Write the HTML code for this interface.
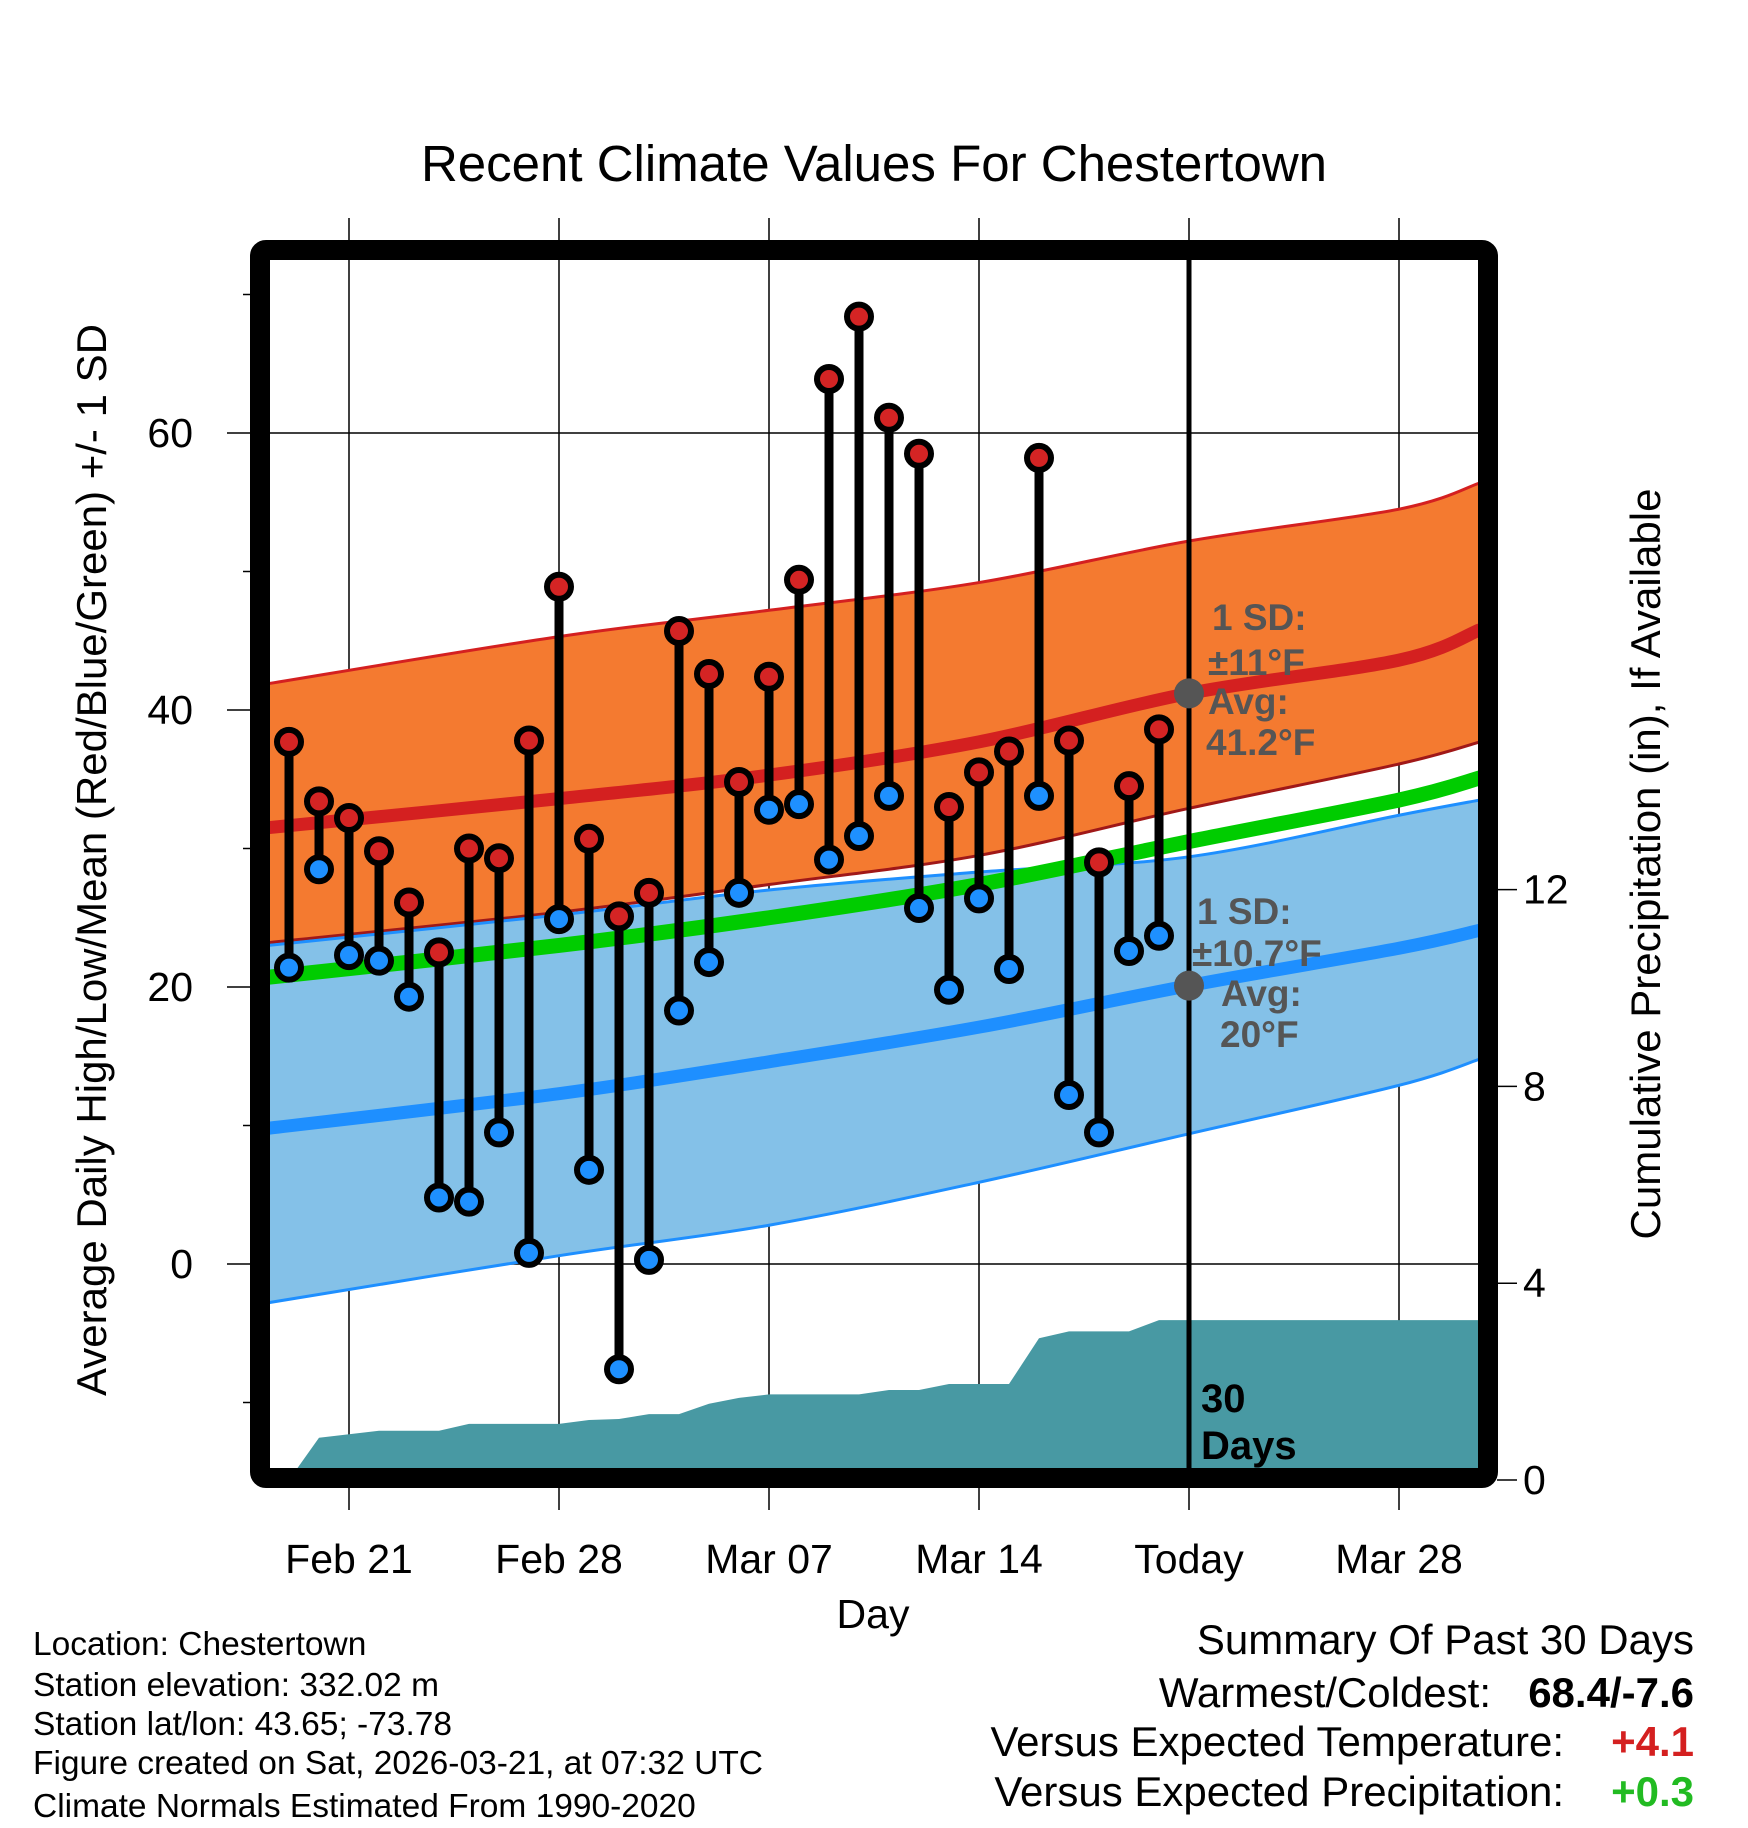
<!DOCTYPE html>
<html><head><meta charset="utf-8"><style>
html,body{margin:0;padding:0;background:#fff}
svg{display:block;font-family:"Liberation Sans",sans-serif}
</style></head><body>
<svg id="chart" width="1748" height="1828" viewBox="0 0 1748 1828" xmlns="http://www.w3.org/2000/svg">
<defs><clipPath id="plotclip"><rect x="270" y="260" width="1208" height="1208"/></clipPath></defs>
<text x="874" y="181" font-size="51" text-anchor="middle">Recent Climate Values For Chestertown</text>
<g id="grid"></g>
<g id="plot" clip-path="url(#plotclip)"></g>
<g id="over"></g>
<rect x="260" y="250" width="1228" height="1228" fill="none" stroke="#000" stroke-width="20" rx="6"/>
<g id="axes"></g>
<text transform="translate(106,860) rotate(-90)" font-size="42" text-anchor="middle">Average Daily High/Low/Mean (Red/Blue/Green) +/- 1 SD</text>
<text transform="translate(1660,864) rotate(-90)" font-size="42" text-anchor="middle">Cumulative Precipitation (in), If Available</text>
<text x="873" y="1628" font-size="41" text-anchor="middle">Day</text>
<g font-size="33.5">
<text x="33" y="1655">Location: Chestertown</text>
<text x="33" y="1696">Station elevation: 332.02 m</text>
<text x="33" y="1735">Station lat/lon: 43.65; -73.78</text>
<text x="33" y="1774">Figure created on Sat, 2026-03-21, at 07:32 UTC</text>
<text x="33" y="1817">Climate Normals Estimated From 1990-2020</text>
</g>
<g font-size="42">
<text x="1694" y="1654" text-anchor="end">Summary Of Past 30 Days</text>
<text x="1491" y="1707" text-anchor="end">Warmest/Coldest:</text>
<text x="1694" y="1707" text-anchor="end" font-weight="bold">68.4/-7.6</text>
<text x="1564" y="1756" text-anchor="end">Versus Expected Temperature:</text>
<text x="1694" y="1756" text-anchor="end" font-weight="bold" fill="#d42020">+4.1</text>
<text x="1564" y="1806" text-anchor="end">Versus Expected Precipitation:</text>
<text x="1694" y="1806" text-anchor="end" font-weight="bold" fill="#22bb22">+0.3</text>
</g>
</svg>
<script>
const highs=[37.7,33.4,32.2,29.8,26.1,22.5,30.0,29.3,37.8,48.9,30.7,25.1,26.8,45.7,42.6,34.8,42.4,49.4,63.9,68.4,61.1,58.5,33.0,35.5,37.0,58.2,37.8,29.0,34.5,38.6];
const lows=[21.4,28.5,22.3,21.9,19.3,4.8,4.5,9.5,0.8,24.9,6.8,-7.6,0.3,18.3,21.8,26.8,32.8,33.2,29.2,30.9,33.8,25.7,19.8,26.4,21.3,33.8,12.2,9.5,22.6,23.7];
const precip=[0,0.86,0.93,1.0,1.0,1.0,1.14,1.14,1.14,1.14,1.22,1.24,1.34,1.34,1.55,1.67,1.74,1.74,1.74,1.74,1.83,1.83,1.95,1.95,1.95,2.88,3.02,3.02,3.02,3.25];
const normDays=[-0.7,9,16,23,30,37,39.7];
const normHigh=[31.5,33.6,35.3,37.7,41.2,43.6,45.8];
const normHighUp=[41.9,45.3,47.2,49.2,52.2,54.5,56.4];
const normHighLo=[23.2,25.4,27.4,29.5,32.9,36.1,37.7];
const normMean=[20.7,23.0,25.0,27.4,30.5,33.5,35.1];
const normLow=[9.8,12.3,14.6,17.1,20.1,22.8,24.1];
const normLowUp=[23.0,25.2,27.0,28.3,29.4,32.4,33.5];
const normLowLo=[-2.8,0.6,2.8,5.9,9.4,12.9,14.8];
const xTickDays=[2,9,16,23,30,37];
const xTickLabels=["Feb 21","Feb 28","Mar 07","Mar 14","Today","Mar 28"];
const yTicks=[0,20,40,60];
const yMinor=[-10,10,30,50,70];
const y2Ticks=[0,4,8,12];

const X=d=>289+30*d;
const Y=t=>1264-13.85*t;
const P=p=>1480-49.2*p;
const NS="http://www.w3.org/2000/svg";
function mk(parent,tag,attrs){const e=document.createElementNS(NS,tag);for(const k in attrs)e.setAttribute(k,attrs[k]);parent.appendChild(e);return e;}
const grid=document.getElementById('grid'),plot=document.getElementById('plot'),over=document.getElementById('over'),axes=document.getElementById('axes');

xTickDays.forEach((d,i)=>{
 const l=mk(grid,'line',{x1:X(d),x2:X(d),y1:218,y2:1468,stroke:'#000','stroke-width':1.5});
 
 
 const t=mk(axes,'line',{x1:X(d),x2:X(d),y1:1478,y2:1510,stroke:'#000','stroke-width':1.5});
 
 
 const tx=mk(axes,'text',{x:X(d),y:1573,'font-size':41,'text-anchor':'middle'});
 tx.textContent=xTickLabels[i];
 
 
});
yTicks.forEach(v=>{
 const l=mk(grid,'line',{x1:227,x2:1478,y1:Y(v),y2:Y(v),stroke:'#000','stroke-width':1.5});
 
 
 const tx=mk(axes,'text',{x:193,y:Y(v)+14,'font-size':41,'text-anchor':'end'});
 tx.textContent=v;
 
 
});
yMinor.forEach(v=>{
 const l=mk(axes,'line',{x1:243,x2:252,y1:Y(v),y2:Y(v),stroke:'#000','stroke-width':1.5});
 
 
});
y2Ticks.forEach(v=>{
 const l=mk(axes,'line',{x1:1497,x2:1517,y1:P(v),y2:P(v),stroke:'#000','stroke-width':1.5});
 
 
 const tx=mk(axes,'text',{x:1523,y:P(v)+14,'font-size':41});
 tx.textContent=v;
 
 
});

// smooth Catmull-Rom path through knots
function curve(arr,rev){
 let p=normDays.map((d,i)=>[X(d),Y(arr[i])]);
 if(rev)p=p.reverse();
 let s='';
 for(let i=0;i<p.length-1;i++){
  const p0=p[Math.max(0,i-1)],p1=p[i],p2=p[i+1],p3=p[Math.min(p.length-1,i+2)];
  const c1=[p1[0]+(p2[0]-p0[0])/6,p1[1]+(p2[1]-p0[1])/6];
  const c2=[p2[0]-(p3[0]-p1[0])/6,p2[1]-(p3[1]-p1[1])/6];
  s+=' C'+c1.join(',')+' '+c2.join(',')+' '+p2.join(',');
 }
 return {start:p[0],segs:s};
}
function linePath(arr){const c=curve(arr,false);return 'M'+c.start.join(',')+c.segs;}
function bandPath(up,lo){const a=curve(up,false),b=curve(lo,true);return 'M'+a.start.join(',')+a.segs+' L'+b.start.join(',')+b.segs+' Z';}

function addPath(d,attrs,name){const e=mk(plot,'path',Object.assign({d:d},attrs));return e;}
const hb=addPath(bandPath(normHighUp,normHighLo),{fill:'#f47a30'},'high-sd-band');
const hu=addPath(linePath(normHighUp),{fill:'none',stroke:'#d42020','stroke-width':3},'high-sd-upper');
const hl=addPath(linePath(normHighLo),{fill:'none',stroke:'#a01818','stroke-width':3},'high-sd-lower');
const lb=addPath(bandPath(normLowUp,normLowLo),{fill:'#84c1e8'},'low-sd-band');
const lu=addPath(linePath(normLowUp),{fill:'none',stroke:'#1e8fff','stroke-width':3},'low-sd-upper');
const ll=addPath(linePath(normLowLo),{fill:'none',stroke:'#1e8fff','stroke-width':3},'low-sd-lower');
const nh=addPath(linePath(normHigh),{fill:'none',stroke:'#d42020','stroke-width':13},'normal-high-line');
const nm=addPath(linePath(normMean),{fill:'none',stroke:'#00cc00','stroke-width':15},'normal-mean-line');
const nl=addPath(linePath(normLow),{fill:'none',stroke:'#1e8fff','stroke-width':13},'normal-low-line');

let pp=X(0)+','+P(0)+' ';
precip.forEach((v,i)=>{pp+=X(i)+','+P(v)+' ';});
pp+='1480,'+P(precip[precip.length-1])+' 1480,1480 '+X(0)+',1480';
const pa=mk(plot,'polygon',{points:pp,fill:'#4899a3'});



const tl=mk(over,'line',{x1:X(30),x2:X(30),y1:260,y2:1468,stroke:'#000','stroke-width':5});



highs.forEach((h,i)=>{
 const s=mk(over,'line',{x1:X(i),x2:X(i),y1:Y(h),y2:Y(lows[i]),stroke:'#000','stroke-width':9});
 
 
});
highs.forEach((h,i)=>{
 const c=mk(over,'circle',{cx:X(i),cy:Y(h),r:12,fill:'#d42424',stroke:'#000','stroke-width':6});
 
 
 const c2=mk(over,'circle',{cx:X(i),cy:Y(lows[i]),r:12,fill:'#1e90ff',stroke:'#000','stroke-width':6});
 
 
});

const g1=mk(over,'circle',{cx:X(30),cy:Y(normHigh[4]),r:15,fill:'#555'});


const g2=mk(over,'circle',{cx:X(30),cy:Y(normLow[4]),r:15,fill:'#555'});



const notes=[["1 SD:",1212,630],["\u00b111\u00b0F",1208,675],["Avg:",1208,714],["41.2\u00b0F",1206,755],["1 SD:",1197,924],["\u00b110.7\u00b0F",1192,966],["Avg:",1221,1006],["20\u00b0F",1220,1047]];
notes.forEach(n=>{
 const t=mk(over,'text',{x:n[1],y:n[2],'font-size':37,'font-weight':'bold',fill:'#555'});
 t.textContent=n[0];
 
 
});
[["30",1412],["Days",1459]].forEach(n=>{
 const t=mk(over,'text',{x:1201,y:n[1],'font-size':40,'font-weight':'bold',fill:'#000'});
 t.textContent=n[0];
 
 
});
</script>
</body></html>
